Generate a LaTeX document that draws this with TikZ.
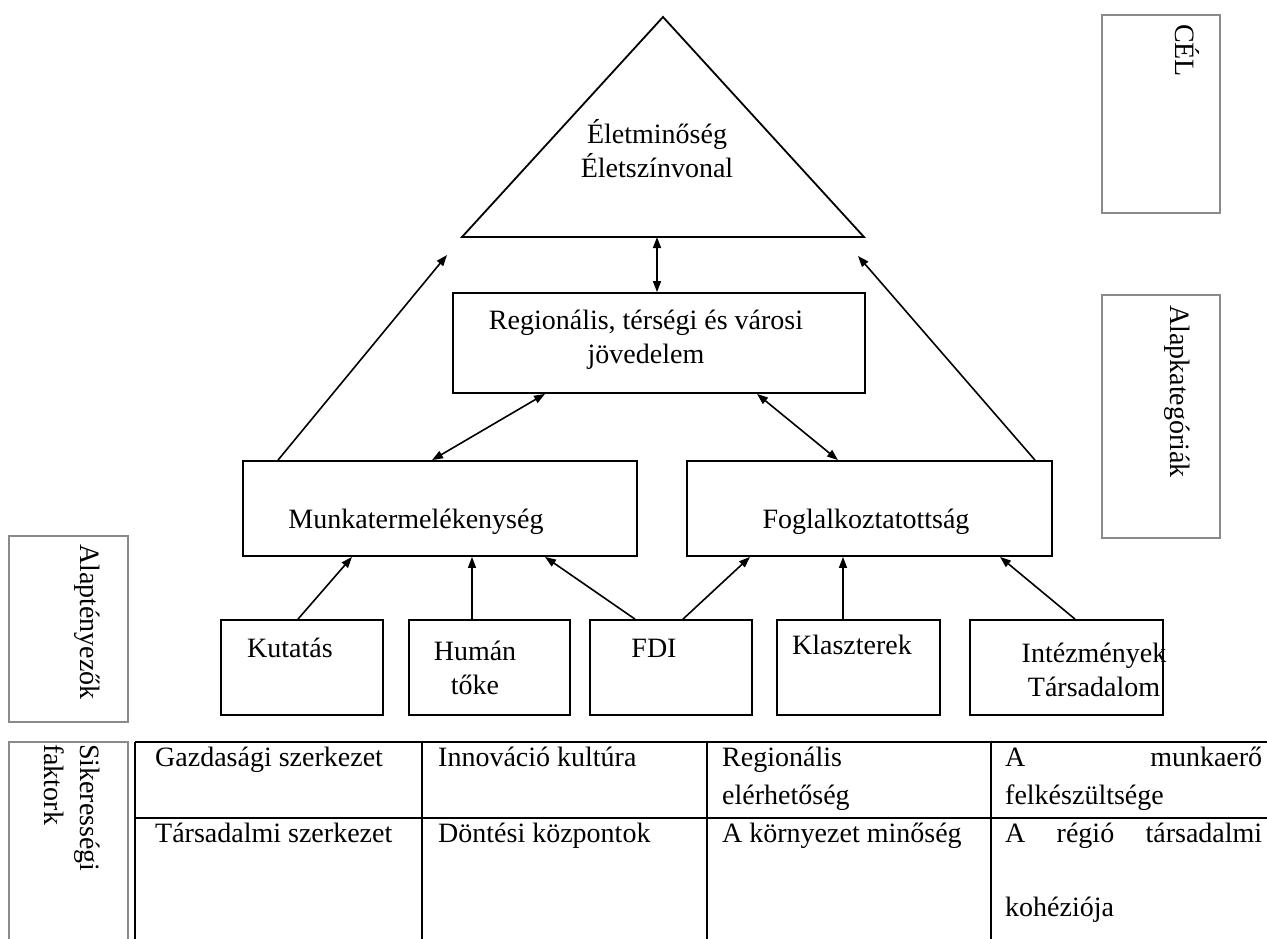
\documentclass[tikz,border=0pt]{standalone}
\usepackage{fontspec}
\setmainfont{Liberation Serif}
\usetikzlibrary{arrows.meta}
\definecolor{sidegray}{HTML}{8A8A8A}
\newcommand\bigtxt{\fontsize{28}{34}\selectfont}
\begin{document}
\begin{tikzpicture}[x=1pt,y=-1pt,
  box/.style={draw=black, line width=1.8pt, inner sep=0pt},
  sidebox/.style={draw=sidegray, line width=2.2pt, inner sep=0pt},
  txt/.style={font=\bigtxt, inner sep=0pt},
  vtxt/.style={font=\bigtxt, inner sep=0pt, rotate=-90, anchor=base west},
  arr/.style={line width=1.6pt, -{Triangle[length=11pt,width=8pt]}},
  darr/.style={line width=1.6pt, {Triangle[length=11pt,width=8pt]}-{Triangle[length=11pt,width=8pt]}},
  gridline/.style={line width=2.2pt}]
\useasboundingbox (0,0) rectangle (1267,938);
\clip (0,0) rectangle (1267,938);
\fill[white] (0,0) rectangle (1267,938);

% goal triangle
\coordinate (apex) at (663,17);
\coordinate (tl) at (462,237);
\coordinate (tr) at (864,237);
\draw[line width=1.8pt] (apex) -- (tl) -- (tr) -- cycle;
\node[txt, align=center, anchor=base] (goal) at (657,177) {Életminőség\\Életszínvonal};

% boxes
\node[box, minimum width=412pt, minimum height=100pt] (reg) at (659,343) {};
\node[txt, align=center, anchor=base] (regt) at (646,363) {Regionális, térségi és városi\\jövedelem};
\node[box, minimum width=394pt, minimum height=95pt] (munka) at (440,508.5) {};
\node[txt, anchor=base] (munkat) at (416,528) {Munkatermelékenység};
\node[box, minimum width=365pt, minimum height=95pt] (fogl) at (869.5,508.5) {};
\node[txt, anchor=base] (foglt) at (866,528) {Foglalkoztatottság};

\node[box, minimum width=162pt, minimum height=95pt] (kut) at (302,667.5) {};
\node[txt, anchor=base] (kutt) at (290,657) {Kutatás};
\node[box, minimum width=161pt, minimum height=95pt] (hum) at (489.5,667.5) {};
\node[txt, align=center, anchor=base] (humt) at (475,694) {Humán\\tőke};
\node[box, minimum width=162pt, minimum height=95pt] (fdi) at (671,667.5) {};
\node[txt, anchor=base] (fdit) at (654,657) {FDI};
\node[box, minimum width=163pt, minimum height=95pt] (kla) at (858.5,667.5) {};
\node[txt, anchor=base] (klat) at (852,654) {Klaszterek};
\node[box, minimum width=193pt, minimum height=95pt] (int) at (1066.5,667.5) {};
\node[txt, align=center, anchor=base] (intt) at (1094,696) {Intézmények\\Társadalom};

% side label boxes
\node[sidebox, minimum width=118pt, minimum height=198pt] (cel) at (1161,114) {};
\node[vtxt] (celt) at (1175,24) {CÉL};
\node[sidebox, minimum width=118pt, minimum height=243pt] (akat) at (1161,416.5) {};
\node[vtxt] (akatt) at (1170,305) {Alapkategóriák};
\node[sidebox, minimum width=119pt, minimum height=186pt] (aten) at (68.5,629) {};
\node[vtxt] (atent) at (80,544) {Alaptényezők};
\node[sidebox, minimum width=119pt, minimum height=230pt] (sik) at (68.5,857) {};
\node[vtxt] (sikt1) at (80,744) {Sikerességi};
\node[vtxt] (sikt2) at (44,744) {faktork};

% helper coordinates for connector positions
\coordinate (tb) at (657,237);
\coordinate (lt) at (447,255);
\coordinate (rt) at (858,256);
\coordinate (c278) at (278,0);
\coordinate (c1035) at (1035,0);
\coordinate (c545) at (545,0);
\coordinate (c432) at (432,0);
\coordinate (c757) at (757,0);
\coordinate (c838) at (838,0);
\coordinate (c298) at (298,0);
\coordinate (c352) at (352,0);
\coordinate (c472) at (472,0);
\coordinate (c635) at (635,0);
\coordinate (c683) at (683,0);
\coordinate (c750) at (750,0);
\coordinate (c843) at (843,0);
\coordinate (c1075) at (1075,0);
\coordinate (c1000) at (1000,0);

% connectors
\draw[darr] (tb) -- (reg.north -| tb);
\draw[arr] (munka.north -| c278) -- (lt);
\draw[arr] (fogl.north -| c1035) -- (rt);
\draw[darr] (reg.south -| c545) -- (munka.north -| c432);
\draw[darr] (reg.south -| c757) -- (fogl.north -| c838);
\draw[arr] (kut.north -| c298) -- (munka.south -| c352);
\draw[arr] (hum.north -| c472) -- (munka.south -| c472);
\draw[arr] (fdi.north -| c635) -- (munka.south -| c545);
\draw[arr] (fdi.north -| c683) -- (fogl.south -| c750);
\draw[arr] (kla.north -| c843) -- (fogl.south -| c843);
\draw[arr] (int.north -| c1075) -- (fogl.south -| c1000);

% table of success factors
\draw[gridline] (135,742) -- (1267,742);
\draw[gridline] (135,818) -- (1267,818);
\draw[gridline] (135,742) -- (135,945);
\draw[gridline] (422,742) -- (422,945);
\draw[gridline] (707,742) -- (707,945);
\draw[gridline] (991,742) -- (991,945);

\node[txt, anchor=base west] (g1) at (155,766) {Gazdasági szerkezet};
\node[txt, anchor=base west] (g2) at (438,766) {Innováció kultúra};
\node[txt, anchor=base west] (g3) at (722,766) {Regionális};
\node[txt, anchor=base west] (g3b) at (722,804) {elérhetőség};
\node[txt, anchor=base west] (g4) at (1005,766) {\hbox to 257pt{A\hfill munkaerő}};
\node[txt, anchor=base west] (g4b) at (1005,804) {felkészültsége};
\node[txt, anchor=base west] (h1) at (155,842) {Társadalmi szerkezet};
\node[txt, anchor=base west] (h2) at (438,842) {Döntési központok};
\node[txt, anchor=base west] (h3) at (722,842) {A környezet minőség};
\node[txt, anchor=base west] (h4) at (1005,842) {\hbox to 257pt{A\hfill régió\hfill társadalmi}};
\node[txt, anchor=base west] (h4b) at (1005,916) {kohéziója};
\end{tikzpicture}
\end{document}
